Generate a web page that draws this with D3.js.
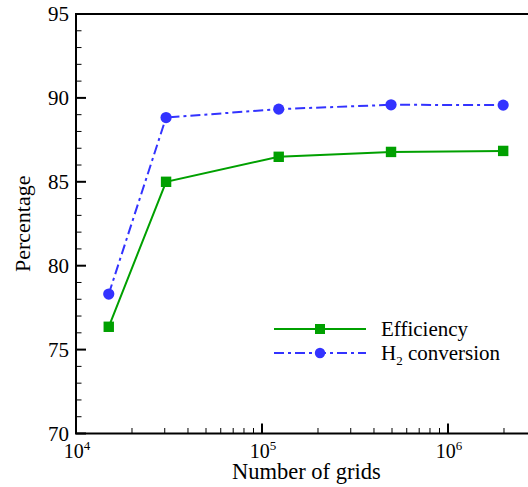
<!DOCTYPE html>
<html><head><meta charset="utf-8">
<script src="https://cdn.jsdelivr.net/npm/d3@7"></script>
<style>body{margin:0;background:#fff}svg{display:block}</style>
</head><body>
<script>
const grids = [1.5e4, 3.05e4, 1.23e5, 4.94e5, 1.98e6];
const efficiency = [76.36, 85.0, 86.49, 86.78, 86.84];
const h2conversion = [78.31, 88.83, 89.33, 89.59, 89.57];
const yTicks = [70, 75, 80, 85, 90, 95];
const xTickExps = [4, 5, 6];
const seriesNames = ["Efficiency", "H2 conversion"];

const W = 528, H = 487;
const FONT = "'Liberation Serif'";
const svg = d3.select("body").append("svg").attr("width", W).attr("height", H);
const x0 = 76, x1 = 76 + 186 * Math.log10(300), yTop = 14, yBot = 433.5;
const x = d3.scaleLog().domain([1e4, 3e6]).range([x0, x1]);
const y = d3.scaleLinear().domain([70, 95]).range([yBot, yTop]);

const green = "#00a000", blue = "#3333ff";

// frame
svg.append("path").attr("d", `M${x0},${yBot}V${yTop}H${x1}V${yBot}Z`)
  .attr("fill", "none").attr("stroke", "#000").attr("stroke-width", 2);

// y ticks
const yMinor = d3.range(70, 96, 1);
svg.selectAll(".ytk").data(yMinor).enter().append("line")
  .attr("x1", x0).attr("x2", d => x0 + (d % 5 === 0 ? 10 : 5.5))
  .attr("y1", d => y(d)).attr("y2", d => y(d))
  .attr("stroke", "#000").attr("stroke-width", d => d % 5 === 0 ? 2 : 1);
svg.selectAll(".ylab").data(yTicks).enter().append("text")
  .style("font-family", FONT)
  .attr("x", 69).attr("y", d => y(d)).attr("dy", "0.34em")
  .attr("text-anchor", "end").attr("font-size", 21).text(d => d);

// x ticks
const xMinor = [];
for (let e = 4; e <= 6; e++) for (let m = 1; m <= 9; m++) { const v = m * Math.pow(10, e); if (v <= 3e6) xMinor.push({v, major: m === 1}); }
svg.selectAll(".xtk").data(xMinor).enter().append("line")
  .attr("x1", d => x(d.v)).attr("x2", d => x(d.v))
  .attr("y1", yBot).attr("y2", d => yBot - (d.major ? 10 : 5.5))
  .attr("stroke", "#000").attr("stroke-width", d => d.major ? 2 : 1);
const xl = svg.selectAll(".xlab").data(xTickExps).enter().append("text")
  .style("font-family", FONT)
  .attr("x", d => x(Math.pow(10, d)) + 1).attr("y", 458)
  .attr("text-anchor", "middle").attr("font-size", 20);
xl.append("tspan").text("10");
xl.append("tspan").attr("font-size", 13).attr("dy", -8).text(d => d);

// axis titles
svg.append("text").style("font-family", FONT).attr("x", (x0 + x1) / 2).attr("y", 479)
  .attr("text-anchor", "middle").attr("font-size", 22.5).text("Number of grids");
svg.append("text").style("font-family", FONT)
  .attr("transform", `translate(30,${(yTop + yBot) / 2}) rotate(-90)`)
  .attr("text-anchor", "middle").attr("font-size", 22).text("Percentage");

// series
const line = d3.line().x(d => x(d[0])).y(d => y(d[1]));
const effData = grids.map((g, i) => [g, efficiency[i]]);
const h2Data = grids.map((g, i) => [g, h2conversion[i]]);

svg.append("path").datum(effData).attr("d", line).attr("fill", "none")
  .attr("stroke", green).attr("stroke-width", 2);
svg.append("path").datum(h2Data).attr("d", line).attr("fill", "none")
  .attr("stroke", blue).attr("stroke-width", 2).attr("stroke-dasharray", "10,4,3,4");

svg.selectAll(".sq").data(effData).enter().append("rect")
  .attr("x", d => x(d[0]) - 5.2).attr("y", d => y(d[1]) - 5.2)
  .attr("width", 10.4).attr("height", 10.4).attr("fill", green);
svg.selectAll(".ci").data(h2Data).enter().append("circle")
  .attr("cx", d => x(d[0])).attr("cy", d => y(d[1])).attr("r", 5.6).attr("fill", blue);

// legend
const lg = svg.append("g");
lg.append("line").attr("x1", 274).attr("x2", 366).attr("y1", 329).attr("y2", 329)
  .attr("stroke", green).attr("stroke-width", 2);
lg.append("rect").attr("x", 315).attr("y", 324).attr("width", 10).attr("height", 10).attr("fill", green);
lg.append("text").style("font-family", FONT).attr("x", 381).attr("y", 329).attr("dy", "0.35em")
  .attr("font-size", 21).text(seriesNames[0]);
lg.append("line").attr("x1", 274).attr("x2", 366).attr("y1", 353).attr("y2", 353)
  .attr("stroke", blue).attr("stroke-width", 2).attr("stroke-dasharray", "10,4,3,4");
lg.append("circle").attr("cx", 320).attr("cy", 353).attr("r", 5.2).attr("fill", blue);
const t2 = lg.append("text").style("font-family", FONT).attr("x", 381).attr("y", 353)
  .attr("dy", "0.35em").attr("font-size", 21);
t2.append("tspan").text("H");
t2.append("tspan").attr("font-size", 13).attr("dy", 5).text("2");
t2.append("tspan").attr("dy", -5).text(" conversion");
</script>
</body></html>
